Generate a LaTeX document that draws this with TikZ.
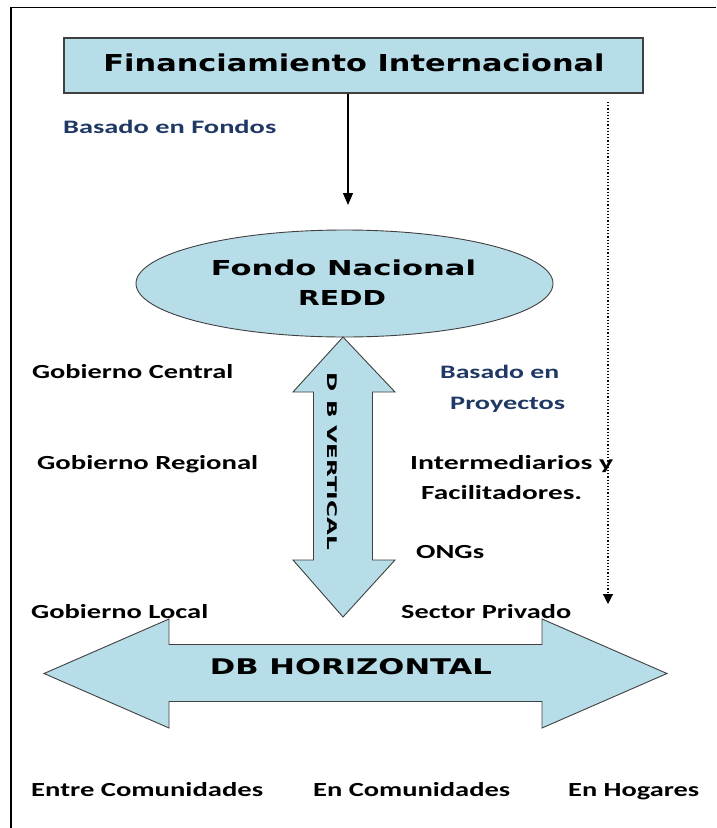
\documentclass[tikz,border=0pt]{standalone}
\usepackage{fontspec}
\setmainfont{Carlito}
\newfontfamily\hdr{DejaVu Sans}
\usetikzlibrary{arrows.meta,shapes.geometric}
\definecolor{lb}{HTML}{B7DDE8}
\definecolor{bd}{HTML}{404040}
\definecolor{navy}{HTML}{1F3864}
\newcommand\fitw[2]{\resizebox{#1pt}{\height}{#2}}
\begin{document}
\begin{tikzpicture}[x=1pt,y=-1pt,
  lbl/.style={anchor=base west,inner sep=0,font=\fontsize{20}{24}\selectfont\bfseries},
  nlbl/.style={lbl,text=navy,font=\fontsize{19}{23}\selectfont\bfseries},
  htxt/.style={inner sep=0,font=\hdr\bfseries\fontsize{#1}{#1}\selectfont},
  shapebd/.style={draw=bd,fill=lb,line width=0.9}]
\useasboundingbox (0,0) rectangle (716,828);
\fill[white] (0,0) rectangle (716,828);
\draw[line width=1.6] (11,828) -- (11,7.5) -- (716,7.5);

% top box
\node[shapebd,line width=1.2,minimum width=579,minimum height=55,inner sep=0] (fin) at (353.5,65.5) {};
\node[htxt=23.3] (fint) at (354,63) {\fitw{501}{Financiamiento Internacional}};

% ellipse
\node[shapebd,ellipse,minimum width=417,minimum height=107,inner sep=0] (fnd) at (344.5,283.5) {};
\node[htxt=20.6] (fnd1) at (343.5,268) {\fitw{265}{Fondo Nacional}};
\node[htxt=20.6] (fnd2) at (342,298) {\fitw{88}{REDD}};

% arrows
\coordinate (a1) at (348,205);
\draw[line width=1.1,-{Triangle[length=12,width=10]}] (fin.south -| a1) -- (a1);
\coordinate (d0) at (608,102);
\coordinate (d1) at (608,604);
\draw[line width=1.2,dotted,-{Triangle[length=10,width=10]}] (d0) -- (d1);

% vertical double arrow
\draw[shapebd] (343,337) -- (395,392) -- (372.5,392) -- (372.5,560) -- (395,560) -- (343,617)
  -- (293,560) -- (313.5,560) -- (313.5,392) -- (293,392) -- cycle;
\node[htxt=13.3,rotate=-90] (vt) at (332.5,461.5) {\fitw{177}{D B VERTICAL}};

% horizontal double arrow
\draw[shapebd] (44,673.5) -- (169,619) -- (169,644.5) -- (542,644.5) -- (542,619) -- (667,673.5)
  -- (542,728) -- (542,701.5) -- (169,701.5) -- (169,728) -- cycle;
\node[htxt=21.6] (ht) at (351,667) {\fitw{282}{DB HORIZONTAL}};

% labels
\node[nlbl] (bf) at (63,133.5) {\fitw{213}{Basado en Fondos}};
\node[nlbl] (bp1) at (440,378.5) {\fitw{119}{Basado en}};
\node[nlbl] (bp2) at (450,409.5) {\fitw{115}{Proyectos}};

\node[lbl] (gc) at (32,378.5) {\fitw{201}{Gobierno Central}};
\node[lbl] (gr) at (37,469.5) {\fitw{221}{Gobierno Regional}};
\node[lbl] (gl) at (31,618.5) {\fitw{177}{Gobierno Local}};
\node[lbl] (im) at (410,469.5) {\fitw{203}{Intermediarios y}};
\node[lbl] (fa) at (421,499.5) {\fitw{161}{Facilitadores.}};
\node[lbl] (on) at (416,558.5) {\fitw{68}{ONGs}};
\node[lbl] (sp) at (401,618.5) {\fitw{170}{Sector Privado}};
\node[lbl] (ec) at (31,796.5) {\fitw{232}{Entre Comunidades}};
\node[lbl] (enc) at (313,796.5) {\fitw{197}{En Comunidades}};
\node[lbl] (eh) at (568,796.5) {\fitw{131}{En Hogares}};
\end{tikzpicture}
\end{document}
